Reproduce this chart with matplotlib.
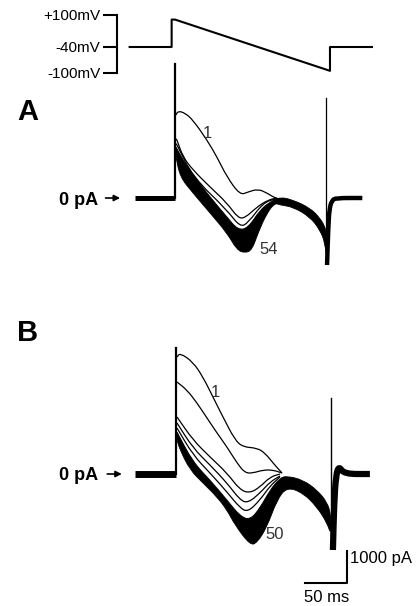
import numpy as np
import matplotlib
matplotlib.use("Agg")
from matplotlib import pyplot as plt
from matplotlib.path import Path
from matplotlib.patches import PathPatch

plt.rcParams['font.family'] = ['Liberation Sans', 'DejaVu Sans']

# ---------------------------------------------------------------
#  voltage protocol (time in ms, voltage in mV)
# ---------------------------------------------------------------
v_t = [-54, -4, -4, 0, 184.5, 184.5, 234.5]
v_mV = [-40, -40, 80, 80, -95, -40, -40]
v_ticks = [100, -40, -100]
v_labels = ['+100mV', '-40mV', '-100mV']

# ---------------------------------------------------------------
#  panel A currents (time in ms, current in pA)
# ---------------------------------------------------------------
a_base_t = [-48, 0]
a_base = [0, 0]
a_on_t = [0, 0]
a_on = [0, 4190]

a_tr1_t = [1.2, 3.6, 11.9, 21.4, 38.1, 50, 61.9, 77.4, 86.9, 98.8, 109.5, 119, 125]
a_tr1 = [2594, 2719, 2656, 2437, 1812, 1281, 656, 94, 187, 281, 156, 0, -31]

a_tr2_t = [1.2, 2.4, 9.5, 21.4, 41.7, 61.9, 75, 83.3, 97.6, 110.7, 121.4]
a_tr2 = [1850, 1812, 1281, 875, 344, -156, -625, -625, -281, -62, 0]

a_tr3_t = [1.2, 2.4, 21.4, 61.9, 77.4, 86.9, 104.8, 119]
a_tr3 = [1700, 1656, 656, -375, -906, -781, -156, -31]

# envelope of the dense bundle of later sweeps
a_top_t = [1.2, 14.3, 41.7, 61.9, 75, 86.9, 101.2, 113, 125, 140.5, 160.7, 172.6, 178.6, 181]
a_top = [1594, 969, 31, -594, -1000, -937, -375, -125, 31, -62, -312, -625, -906, -1156]
a_bot_t = [1.2, 6, 21.4, 41.7, 61.9, 73.8, 83.3, 91.7, 98.8, 109.5, 119, 125, 140.5,
           160.7, 172.6, 178.6, 181]
a_bot = [1281, 656, 156, -469, -1094, -1625, -1719, -1625, -1094, -469, -156, -219, -281,
         -594, -1000, -1406, -2031]

a_off_t = [179.8, 179.8]
a_off = [-1000, 3125]
a_tail_t = [181, 182.5, 184, 187, 191, 223]
a_tail = [-2094, -900, -300, -80, 0, 0]

# ---------------------------------------------------------------
#  panel B currents
# ---------------------------------------------------------------
b_base_t = [-48, 1]
b_base = [0, 0]
b_on_t = [1, 1]
b_on = [0, 3937]

b_tr1_t = [2.4, 6, 21.4, 33.3, 45.2, 57.1, 71.4, 81, 97.6, 107.1, 116.7, 127.4]
b_tr1 = [3656, 3781, 3500, 3031, 2406, 1781, 1062, 844, 812, 656, 344, 31]

b_tr2_t = [2.4, 14.3, 26.2, 38.1, 50, 61.9, 73.8, 83.3, 92.9, 104.8, 116.7, 127.4]
b_tr2 = [2875, 2625, 2219, 1750, 1281, 844, 344, 31, 31, 125, 125, 31]

b_tr3_t = [2.4, 21.4, 41.7, 61.9, 77.4, 89.3, 101.2, 113.1, 125]
b_tr3 = [1781, 1062, 531, 31, -500, -594, -406, -94, 0]

b_tr4_t = [2.4, 21.4, 41.7, 61.9, 77.4, 86.9, 101.2, 113.1, 125]
b_tr4 = [1594, 812, 281, -281, -812, -906, -594, -250, -62]

b_tr5_t = [2.4, 21.4, 41.7, 61.9, 77.4, 86.9, 101.2, 113.1, 125]
b_tr5 = [1437, 594, 31, -562, -1062, -1187, -812, -375, -94]

b_top_t = [2.4, 21.4, 41.7, 61.9, 77.4, 89.3, 101.2, 113.1, 125, 133.3, 152.4, 169, 181, 185.7]
b_top = [1312, 375, -187, -812, -1312, -1437, -1062, -500, -125, -62, -187, -500, -875, -1281]
b_bot_t = [2.4, 6, 17.9, 33.3, 50, 61.9, 71.4, 89.3, 97.6, 109.5, 121.4, 133.3, 152.4,
           169, 181, 185.7]
b_bot = [1062, 750, 125, -281, -719, -1125, -1594, -2219, -2156, -1656, -812, -406, -594,
         -1031, -1531, -1906]

b_off_t = [185.7, 185.7]
b_off = [-1900, 2375]
b_tail_t = [188, 189.5, 191.7, 195.2, 201.2, 232]
b_tail = [-2375, -900, -31, 250, 0, 0]

# scale bar (50 ms, 1000 pA)
sb_t = [155, 205, 205]
sb_pa = [-3400, -3400, -2400]

# ---------------------------------------------------------------
#  figure layout (pixels of the 419 x 606 picture)
# ---------------------------------------------------------------
W, H = 419, 606
MS_PX = 42 / 50      # px per ms
PA_PX = 32 / 1000    # px per pA
T0 = 175             # px of t = 0

fig = plt.figure(figsize=(W / 100, H / 100), dpi=100)
XLIM = (-T0 / MS_PX, (W - T0) / MS_PX)


def trace_axes(top, bottom, zero):
    ax = fig.add_axes([0, 1 - bottom / H, 1, (bottom - top) / H])
    ax.set_xlim(*XLIM)
    ax.set_ylim((zero - bottom) / PA_PX, (zero - top) / PA_PX)
    ax.axis('off')
    return ax


def smooth_path(t, y, closed=False):
    # rounded polyline: quadratic curves through the midpoints, corners as controls
    p = np.column_stack([t, y]).astype(float)
    verts = [p[0], (p[0] + p[1]) / 2]
    codes = [Path.MOVETO, Path.LINETO]
    for i in range(1, len(p) - 1):
        verts += [p[i], (p[i] + p[i + 1]) / 2]
        codes += [Path.CURVE3, Path.CURVE3]
    verts.append(p[-1])
    codes.append(Path.LINETO)
    if closed:
        verts.append(p[0])
        codes.append(Path.CLOSEPOLY)
    return Path(verts, codes)


def sweep(ax, t, y, lw=0.9):
    ax.add_patch(PathPatch(smooth_path(t, y), fill=False, edgecolor='k', lw=lw,
                           capstyle='butt', joinstyle='round'))


def bundle(ax, tt, top, bt, bot):
    path = smooth_path(tt + bt[::-1], top + bot[::-1], closed=True)
    ax.add_patch(PathPatch(path, facecolor='k', edgecolor='k', lw=0.6))


# voltage protocol: schematic, non linear mV scale as drawn
axv = fig.add_axes([0, 1 - 73 / H, 1, 58 / H])
fwd = lambda v: np.interp(v, [-100, -40, 100], [-26, 0, 32])
inv = lambda p: np.interp(p, [-26, 0, 32], [-100, -40, 100])
axv.set_yscale('function', functions=(fwd, inv))
axv.set_ylim(-100, 100)
axv.set_xlim(*XLIM)
for s in ['top', 'right', 'bottom']:
    axv.spines[s].set_visible(False)
axv.spines['left'].set_position(('data', -69))
axv.spines['left'].set_bounds(-100, 100)
axv.spines['left'].set_linewidth(1.5)
axv.set_xticks([])
axv.set_yticks(v_ticks)
axv.set_yticklabels(v_labels)
axv.tick_params(axis='y', length=10, width=1.5, pad=2, labelsize=11)
axv.minorticks_off()
axv.patch.set_visible(False)
axv.plot(v_t, v_mV, color='k', lw=1.5, clip_on=False)

# panel A
axa = trace_axes(55, 280, 198)
bundle(axa, a_top_t, a_top, a_bot_t, a_bot)
axa.plot(a_base_t, a_base, color='k', lw=3.6, solid_capstyle='butt')
axa.plot(a_on_t, a_on, color='k', lw=1.6)
for tt, yy in [(a_tr1_t, a_tr1), (a_tr2_t, a_tr2), (a_tr3_t, a_tr3)]:
    sweep(axa, tt, yy)
axa.plot(a_off_t, a_off, color='k', lw=0.9)
sweep(axa, a_tail_t, a_tail, lw=3.2)
axa.text(38, 2031, '1', fontsize=12, ha='center', va='center', color='#333')
axa.text(112, -1625, '54', fontsize=12, ha='center', va='center', color='#333')
axa.text(-91.7, -90, '0 pA', fontsize=13, fontweight='bold', ha='right', va='center')
axa.annotate('', xy=(-62, 0), xytext=(-86, 0),
             arrowprops=dict(arrowstyle='-|>', color='k', lw=1.2, mutation_scale=9))

# panel B
axb = trace_axes(300, 606, 474)
bundle(axb, b_top_t, b_top, b_bot_t, b_bot)
axb.plot(b_base_t, b_base, color='k', lw=5, solid_capstyle='butt')
axb.plot(b_on_t, b_on, color='k', lw=1.6)
for tt, yy in [(b_tr1_t, b_tr1), (b_tr2_t, b_tr2), (b_tr3_t, b_tr3),
               (b_tr4_t, b_tr4), (b_tr5_t, b_tr5)]:
    sweep(axb, tt, yy)
axb.plot(b_off_t, b_off, color='k', lw=1.0)
sweep(axb, b_tail_t, b_tail, lw=4.5)
axb.text(47.6, 2562, '1', fontsize=12, ha='center', va='center', color='#333')
axb.text(119, -1906, '50', fontsize=12, ha='center', va='center', color='#333')
axb.text(-91.7, -60, '0 pA', fontsize=13, fontweight='bold', ha='right', va='center')
axb.annotate('', xy=(-60, 0), xytext=(-84, 0),
             arrowprops=dict(arrowstyle='-|>', color='k', lw=1.2, mutation_scale=9))

# scale bar
axb.plot(sb_t, sb_pa, color='k', lw=1.5)
axb.text(208, -2625, '1000 pA', fontsize=12, ha='left', va='center')
axb.text(181, -3844, '50 ms', fontsize=12, ha='center', va='center')

# panel letters
fig.text(17 / W, 1 - 112 / H, 'A', fontsize=21, fontweight='bold', va='center')
fig.text(17 / W, 1 - 333 / H, 'B', fontsize=21, fontweight='bold', va='center')

fig.savefig('out.png', dpi=100)
